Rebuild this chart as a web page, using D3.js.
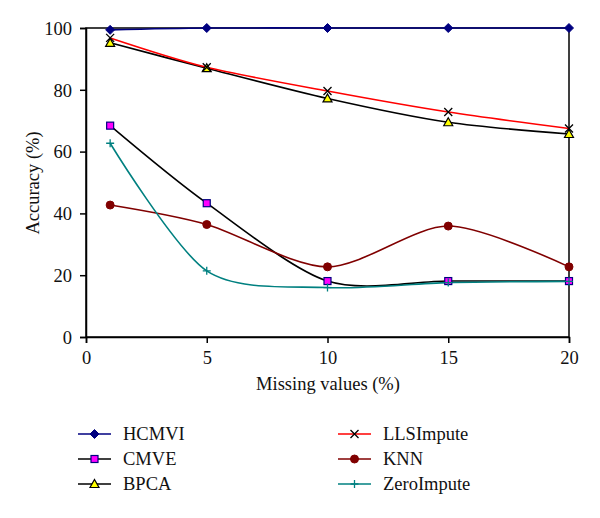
<!DOCTYPE html>
<html><head><meta charset="utf-8">
<script src="https://cdn.jsdelivr.net/npm/d3@7"></script>
<style>body{margin:0;background:#fff}text{font-family:"Liberation Serif","DejaVu Serif",serif;fill:#111}</style>
</head><body><svg id="c" width="600" height="518"></svg>
<script>
const missing = [1, 5, 10, 15, 20];
const hcmvi = [99.4, 100, 100, 100, 100];
const cmve = [68.4, 43.3, 18.1, 18.1, 18.1];
const bpca = [95.2, 87.0, 77.2, 69.5, 65.7];
const llsimpute = [96.8, 87.3, 79.6, 72.8, 67.5];
const knn = [42.7, 36.4, 22.7, 35.9, 22.7];
const zeroimpute = [62.7, 21.4, 16.0, 17.6, 18.0];
const xTicks = [0, 5, 10, 15, 20];
const yTicks = [0, 20, 40, 60, 80, 100];

const series = [
  {name:"HCMVI", values:hcmvi, line:"#000080", marker:"diamond", fill:"#000080", stroke:"#000080"},
  {name:"CMVE", values:cmve, line:"#000000", marker:"square", fill:"#ff00ff", stroke:"#000080"},
  {name:"BPCA", values:bpca, line:"#000000", marker:"triangle", fill:"#ffff00", stroke:"#000000"},
  {name:"LLSImpute", values:llsimpute, line:"#ff0000", marker:"x", fill:"none", stroke:"#000000"},
  {name:"KNN", values:knn, line:"#800000", marker:"circle", fill:"#800000", stroke:"#800000"},
  {name:"ZeroImpute", values:zeroimpute, line:"#008080", marker:"plus", fill:"none", stroke:"#008080"}
];

const FS = 18.5;
const svg = d3.select("#c");
const x = d3.scaleLinear().domain([0,20]).range([86,569]);
const y = d3.scaleLinear().domain([0,100]).range([337,28]);

svg.append("rect").attr("x",86).attr("y",28).attr("width",483).attr("height",309)
  .attr("fill","none").attr("stroke","#000").attr("stroke-width",1.5);

const xa = svg.append("g").attr("transform","translate(0,337)")
  .call(d3.axisBottom(x).tickValues(xTicks).tickSize(6).tickPadding(8));
const ya = svg.append("g").attr("transform","translate(86,0)")
  .call(d3.axisLeft(y).tickValues(yTicks).tickSize(6).tickPadding(8));
[xa,ya].forEach(a=>{a.attr("font-family",null).attr("font-size",null);
  a.select(".domain").attr("stroke","#000").attr("stroke-width",1.5);
  a.selectAll(".tick line").attr("stroke","#000").attr("stroke-width",1.5);
  a.selectAll("text").attr("font-size",FS).attr("fill","#111");});
ya.selectAll("text").attr("dy","0.34em");

svg.append("text").attr("x",328).attr("y",390).attr("text-anchor","middle").attr("font-size",FS).text("Missing values (%)");
svg.append("text").attr("transform","translate(39,183) rotate(-90)").attr("text-anchor","middle").attr("font-size",FS).text("Accuracy (%)");

function marker(g, type, fill, stroke){
  if(type==="diamond") g.append("path").attr("d","M0,-4.5L4.5,0L0,4.5L-4.5,0Z").attr("fill",fill).attr("stroke",stroke);
  else if(type==="square") g.append("rect").attr("x",-3.5).attr("y",-3.5).attr("width",7).attr("height",7).attr("fill",fill).attr("stroke",stroke).attr("stroke-width",1.2);
  else if(type==="triangle") g.append("path").attr("d","M0,-4.5L4.5,3.5L-4.5,3.5Z").attr("fill",fill).attr("stroke",stroke).attr("stroke-width",1.2);
  else if(type==="x") g.append("path").attr("d","M-4,-4L4,4M-4,4L4,-4").attr("stroke",stroke).attr("stroke-width",1.3);
  else if(type==="circle") g.append("circle").attr("r",4).attr("fill",fill).attr("stroke",stroke);
  else if(type==="plus") g.append("path").attr("d","M-4,0L4,0M0,-4L0,4").attr("stroke",stroke).attr("stroke-width",1.3);
}

const line = d3.line().x(d=>x(d[0])).y(d=>y(d[1])).curve(d3.curveCardinal.tension(0.15));
series.forEach(s=>{
  const pts = missing.map((m,i)=>[m,s.values[i]]);
  svg.append("path").attr("d",line(pts)).attr("fill","none").attr("stroke",s.line).attr("stroke-width",1.6);
});
series.forEach(s=>{
  missing.forEach((m,i)=>{
    const g = svg.append("g").attr("transform",`translate(${x(m)},${y(s.values[i])})`);
    marker(g, s.marker, s.fill, s.stroke);
  });
});

series.forEach((s,i)=>{
  const col = i<3?0:1, row = i%3;
  const lx = col===0?78:338, ly = 434+row*25;
  svg.append("line").attr("x1",lx).attr("x2",lx+33).attr("y1",ly).attr("y2",ly).attr("stroke",s.line).attr("stroke-width",1.6);
  const g = svg.append("g").attr("transform",`translate(${lx+16.5},${ly})`);
  marker(g, s.marker, s.fill, s.stroke);
  svg.append("text").attr("x",lx+45).attr("y",ly+6).attr("font-size",FS).text(s.name);
});
</script></body></html>
